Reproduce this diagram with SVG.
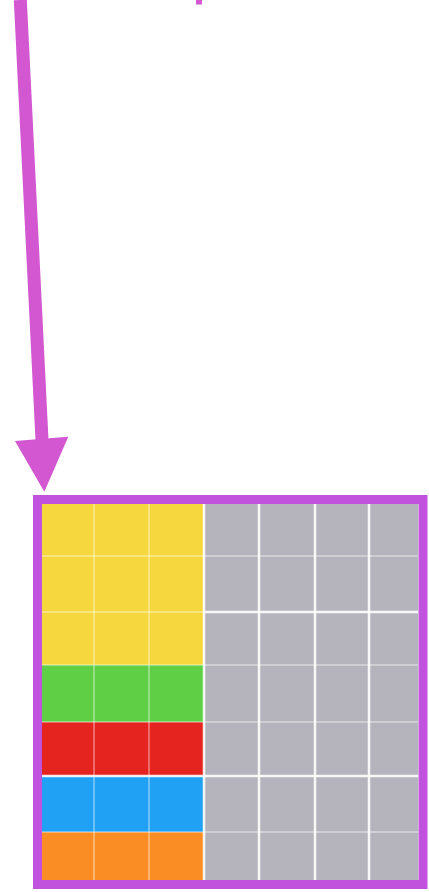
<svg xmlns="http://www.w3.org/2000/svg" width="429" height="892" viewBox="0 0 429 892">
<style>
.g{stroke:#ffffff;stroke-width:2.5;opacity:0.9}
.c{stroke:#ffffff;stroke-width:1.5;opacity:0.45}
</style>
<rect width="429" height="892" fill="#ffffff"/>
<g id="connectors">
<line x1="20.3" y1="0" x2="42" y2="440" stroke="#D257D0" stroke-width="13"/>
<polygon points="15,441 68.3,436.7 44.3,491.7" fill="#D257D0"/>
</g>
<g id="top-mark">
<rect x="196" y="0" width="6" height="4.5" fill="#D257D0"/>
</g>
<g id="grid">
<rect x="42" y="504" width="376" height="376" fill="#B5B4BC"/>
<rect x="42" y="504" width="162" height="161" fill="#F6D73E"/>
<rect x="42" y="665" width="162" height="57" fill="#5FCF46"/>
<rect x="42" y="722" width="162" height="54" fill="#E5231F"/>
<rect x="42" y="776" width="162" height="56" fill="#20A1F4"/>
<rect x="42" y="832" width="162" height="48" fill="#FB8D25"/>
<g>
<line class="c" x1="94" y1="504" x2="94" y2="880"/>
<line class="c" x1="149" y1="504" x2="149" y2="880"/>
<line class="c" x1="42" y1="556" x2="204" y2="556"/>
<line class="c" x1="42" y1="612" x2="204" y2="612"/>
<line class="c" x1="42" y1="665" x2="204" y2="665"/>
<line class="c" x1="42" y1="722" x2="204" y2="722"/>
<line class="g" x1="42" y1="776" x2="204" y2="776"/>
<line class="c" x1="42" y1="832" x2="204" y2="832"/>
</g>
<g>
<line class="g" x1="204" y1="504" x2="204" y2="880"/>
<line class="g" x1="259" y1="504" x2="259" y2="880"/>
<line class="g" x1="315" y1="504" x2="315" y2="880"/>
<line class="g" x1="369" y1="504" x2="369" y2="880"/>
<line class="c" x1="204" y1="556" x2="418" y2="556"/>
<line class="g" x1="204" y1="612" x2="418" y2="612"/>
<line class="c" x1="204" y1="665" x2="418" y2="665"/>
<line class="c" x1="204" y1="722" x2="418" y2="722"/>
<line class="g" x1="204" y1="776" x2="418" y2="776"/>
<line class="c" x1="204" y1="832" x2="418" y2="832"/>
</g>
<rect x="37.5" y="499.5" width="385.5" height="385" fill="none" stroke="#C052DD" stroke-width="9"/>
</g>
</svg>
